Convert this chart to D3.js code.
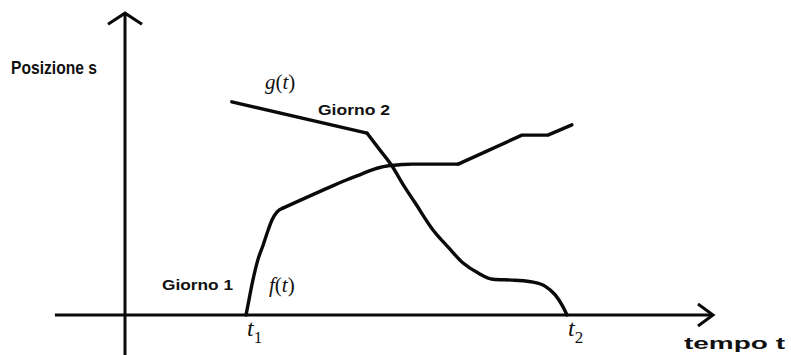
<!DOCTYPE html>
<html>
<head>
<meta charset="utf-8">
<script src="https://cdn.jsdelivr.net/npm/d3@7"></script>
<style>
  html, body { margin: 0; padding: 0; background: #fff; }
  svg { display: block; }
  .lbl { font-family: "Liberation Sans", Arial, sans-serif; font-weight: bold; fill: #111; }
  .math { font-family: "Liberation Serif", "DejaVu Serif", serif; fill: #111; }
</style>
</head>
<body>
<svg id="chart" width="791" height="355"></svg>
<script>
// Giorno 1: position f(t) of the climb, as (time, position) pairs
const fTime = [2.47, 2.53, 2.61, 2.71, 2.82, 2.92, 3.00, 3.10, 3.22, 4.18, 4.53, 4.76, 4.96, 5.16, 5.41, 5.65, 5.86, 6.80, 8.10, 8.63, 9.12];
const fPos  = [0.00, 0.31, 0.71, 1.12, 1.43, 1.73, 1.94, 2.10, 2.18, 2.61, 2.76, 2.85, 2.93, 3.00, 3.05, 3.07, 3.08, 3.08, 3.67, 3.67, 3.88];

// Giorno 2: position g(t) of the descent
const gTime = [2.18, 4.94, 5.20, 5.45, 5.67, 5.92, 6.29, 6.59, 6.90, 7.20, 7.51, 7.96, 8.33, 8.57, 8.78, 8.92, 9.02];
const gPos  = [4.35, 3.71, 3.37, 3.04, 2.67, 2.29, 1.73, 1.39, 1.06, 0.86, 0.73, 0.71, 0.67, 0.59, 0.41, 0.20, 0.00];

// marked instants on the time axis
const tickTimes = [2.47, 9.02];
const tickNames = ["t", "t"];
const tickSubs  = ["1", "2"];

const svg = d3.select("#chart");

const x = d3.scaleLinear().domain([0, 12]).range([125, 713]);
const y = d3.scaleLinear().domain([0, 6]).range([315, 21]);

const ink = "#0a0a0a";

// axes
const axes = svg.append("g").attr("stroke", ink).attr("stroke-width", 3).attr("fill", "none")
  .attr("stroke-linecap", "butt").attr("stroke-linejoin", "miter");

axes.append("line")
  .attr("x1", x(-1.43)).attr("y1", y(0))
  .attr("x2", x(12) - 1).attr("y2", y(0));
axes.append("path")
  .attr("d", `M${x(12) - 15},${y(0) - 11} L${x(12)},${y(0)} L${x(12) - 15},${y(0) + 11}`);

axes.append("line")
  .attr("x1", x(0)).attr("y1", y(-0.82))
  .attr("x2", x(0)).attr("y2", y(6.16) + 1);
axes.append("path")
  .attr("d", `M${x(0) - 17},${y(6.16) + 11} L${x(0)},${y(6.16)} L${x(0) + 17},${y(6.16) + 11}`);

// the two days' curves: rounded stretches are smoothed, corners stay sharp
const smooth = d3.line().x(d => x(d[0])).y(d => y(d[1])).curve(d3.curveMonotoneX);
const straight = d3.line().x(d => x(d[0])).y(d => y(d[1])).curve(d3.curveLinear);

const curves = svg.append("g").attr("fill", "none").attr("stroke", ink)
  .attr("stroke-width", 3.4).attr("stroke-linejoin", "round").attr("stroke-linecap", "round");

function drawPieces(ts, ss, pieces) {
  const pts = d3.zip(ts, ss);
  pieces.forEach(([from, to, gen]) => {
    curves.append("path").attr("d", gen(pts.slice(from, to + 1)));
  });
}

drawPieces(fTime, fPos, [[0, 8, smooth], [8, 17, smooth], [17, fTime.length - 1, straight]]);
drawPieces(gTime, gPos, [[0, 1, straight], [1, gTime.length - 1, smooth]]);

// axis titles
svg.append("text").attr("class", "lbl")
  .attr("x", 11).attr("y", 74)
  .attr("font-size", 19).attr("textLength", 86).attr("lengthAdjust", "spacingAndGlyphs")
  .text("Posizione s");

svg.append("text").attr("class", "lbl")
  .attr("x", 684).attr("y", 349)
  .attr("font-size", 17).attr("textLength", 101).attr("lengthAdjust", "spacingAndGlyphs")
  .text("tempo t");

// day labels
svg.append("text").attr("class", "lbl")
  .attr("x", 318).attr("y", 115)
  .attr("font-size", 14).attr("textLength", 72).attr("lengthAdjust", "spacingAndGlyphs")
  .text("Giorno 2");

svg.append("text").attr("class", "lbl")
  .attr("x", 162).attr("y", 290)
  .attr("font-size", 14).attr("textLength", 71).attr("lengthAdjust", "spacingAndGlyphs")
  .text("Giorno 1");

// function names: italic letters, upright brackets
function mathName(px, py, name) {
  const t = svg.append("text").attr("class", "math").attr("x", px).attr("y", py).attr("font-size", 21);
  t.append("tspan").attr("font-style", "italic").text(name);
  t.append("tspan").text("(");
  t.append("tspan").attr("font-style", "italic").text("t");
  t.append("tspan").text(")");
}
mathName(265, 89, "g");
mathName(269, 292, "f");

// instants t1, t2 under the time axis
tickTimes.forEach((tv, i) => {
  const t = svg.append("text").attr("class", "math")
    .attr("x", x(tv) + 1).attr("y", 336).attr("font-size", 24);
  t.append("tspan").attr("font-style", "italic").text(tickNames[i]);
  t.append("tspan").attr("dy", 7).attr("font-size", 17).text(tickSubs[i]);
});
</script>
</body>
</html>
